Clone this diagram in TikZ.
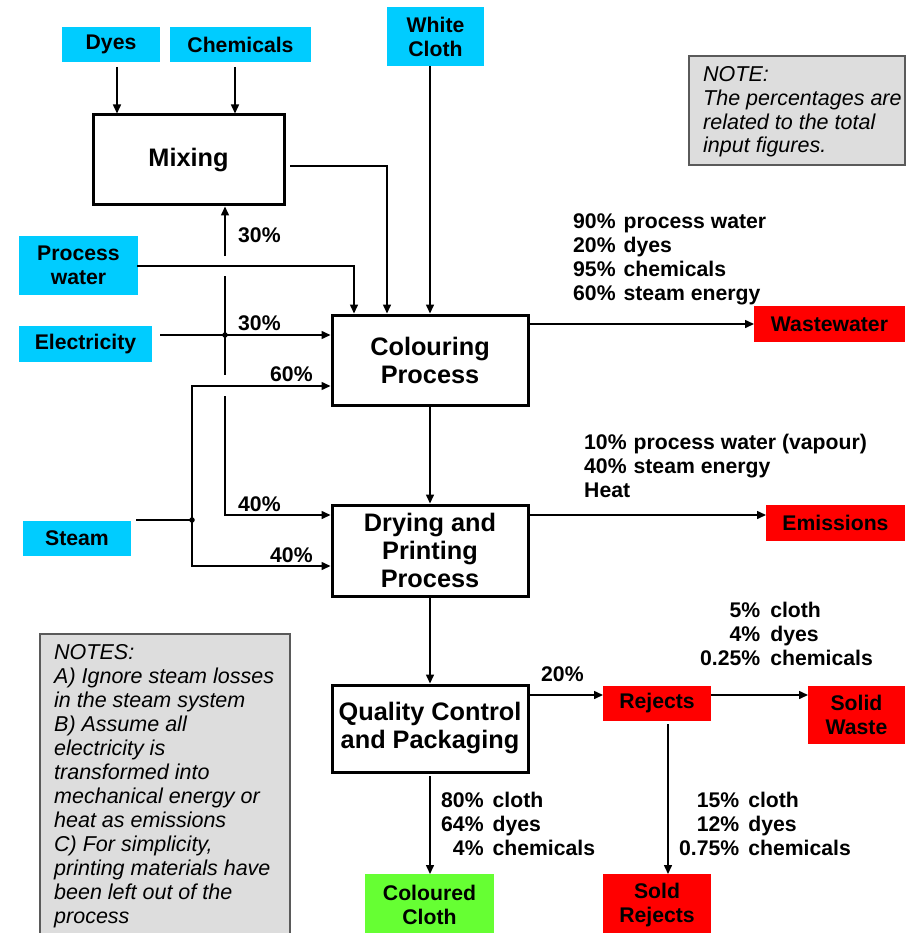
\documentclass[tikz,border=0pt]{standalone}
\usepackage{fontspec}
\setmainfont{Liberation Sans}
\usetikzlibrary{arrows.meta,calc}
\definecolor{incyan}{RGB}{0,204,255}
\definecolor{outred}{RGB}{255,0,0}
\definecolor{okgreen}{RGB}{102,255,51}
\definecolor{notegray}{RGB}{221,221,221}
\definecolor{noteedge}{RGB}{90,90,90}
\begin{document}
\begin{tikzpicture}[x=1pt,y=-1pt,
 base/.style={inner sep=0pt, outer sep=0pt, align=center},
 small/.style={font=\fontsize{21.2}{24}\selectfont\bfseries},
 inbox/.style={base, small, fill=incyan},
 outbox/.style={base, small, fill=outred},
 okbox/.style={base, small, fill=okgreen},
 proc/.style={base, draw, line width=3pt, fill=white, font=\fontsize{25.3}{28}\selectfont\bfseries},
 notebox/.style={base, draw=noteedge, line width=1.5pt, fill=notegray},
 notetext/.style={inner sep=0pt, align=left, font=\fontsize{21.5}{23.8}\selectfont\itshape},
 lbl/.style={inner sep=0pt, small},
 flow/.style={line width=1.5pt, -{Triangle[length=9pt,width=8pt]}},
 flowp/.style={flow, shorten >=1.5pt},
 plain/.style={line width=1.5pt},
 dot/.style={circle, fill=black, inner sep=0pt, minimum size=5.5pt},
]
\useasboundingbox (0,0) rectangle (908,933);

% ---- input boxes
\node[inbox, minimum width=98pt, minimum height=35pt] (dyes) at (111,44.5) {Dyes};
\node[inbox, minimum width=141pt, minimum height=35pt] (chem) at (240.5,44.5) {Chemicals};
\node[inbox, minimum width=97pt, minimum height=59pt] (white) at (435.5,36.5) {White\\Cloth};
\node[inbox, minimum width=119pt, minimum height=59pt] (pw) at (78.5,265.5) {Process\\water};
\node[inbox, minimum width=133pt, minimum height=36pt] (elec) at (85.5,344) {Electricity};
\node[inbox, minimum width=108pt, minimum height=35pt] (steam) at (77,538.5) {Steam};

% ---- process boxes
\node[proc, minimum width=191pt, minimum height=90pt] (mix) at (188.5,160) {Mixing};
\node[proc, minimum width=196pt, minimum height=90pt] (col) at (430,360) {Colouring\\Process};
\node[proc, minimum width=196pt, minimum height=91pt] (dry) at (430,550.5) {Drying and\\Printing\\Process};
\node[proc, minimum width=196pt, minimum height=87pt] (qc) at (430,728.5) {Quality Control\\and Packaging};

% ---- output boxes
\node[outbox, minimum width=151pt, minimum height=36pt] (ww) at (829.5,324) {Wastewater};
\node[outbox, minimum width=139pt, minimum height=36pt] (em) at (835.5,523) {Emissions};
\node[outbox, minimum width=108pt, minimum height=35pt] (rej) at (657,703.5) {Rejects};
\node[outbox, minimum width=97pt, minimum height=58pt] (sw) at (856.5,715) {Solid\\Waste};
\node[outbox, minimum width=108pt, minimum height=62pt] (sr) at (657,905) {Sold\\Rejects};
\node[okbox, minimum width=129pt, minimum height=62pt] (cc) at (429.5,905) {Coloured\\Cloth};

% ---- note boxes
\node[notebox, minimum width=216pt, minimum height=109pt] (note) at (797,110.5) {};
\node[notetext, anchor=west] (notet) at (703,112) {NOTE:\\The percentages are\\related to the total\\input figures.};
\node[notebox, minimum width=250pt, minimum height=311pt] (notes) at (165,789.5) {};
\node[notetext, anchor=west, font=\fontsize{21.5}{24}\selectfont\itshape] (notest) at (54,786) {NOTES:\\A) Ignore steam losses\\in the steam system\\B) Assume all\\electricity is\\transformed into\\mechanical energy or\\heat as emissions\\C) For simplicity,\\printing materials have\\been left out of the\\process};

% ---- connectors into mixing
\coordinate (d1) at ($(dyes.south)+(6,5)$);
\draw[flowp] (d1) -- (d1 |- mix.north);
\coordinate (c1) at ($(chem.south)+(-5.5,5)$);
\draw[flowp] (c1) -- (c1 |- mix.north);

% ---- into colouring
\coordinate (m1) at ($(mix.east)+(6,6)$);
\coordinate (m2) at ($(col.north)+(-43,0)$);
\draw[flowp] (m1) -| (m2);
\draw[flowp] (col.north |- white.south) -- (col.north);
\coordinate (p1) at ($(col.north)+(-76,0)$);
\draw[flowp] ($(pw.east)+(-1,0.5)$) -| (p1);

% ---- electricity
\coordinate (j1) at (225,335);
\draw[flowp] ($(elec.east)+(8,-9)$) -- (j1 -| col.west);
\draw[plain] (j1) -- (225,276);
\draw[flowp] (225,256) -- (j1 |- mix.south);
\draw[plain] (j1) -- (225,375);
\coordinate (e2) at ($(dry.west)+(0,-35.5)$);
\draw[flowp] (225,396) |- (e2);
\node[dot] (dj1) at (j1) {};

% ---- steam
\coordinate (j2) at (192,520);
\draw[plain] ($(steam.east)+(5,-18.5)$) -- (j2);
\coordinate (s1) at ($(col.west)+(0,26)$);
\draw[flowp] (j2) |- (s1);
\coordinate (s2) at ($(dry.west)+(0,15.5)$);
\draw[flowp] (j2) |- (s2);
\node[dot] (dj2) at (j2) {};

% ---- main flow
\draw[flowp] (col.south) -- (dry.north);
\draw[flowp] (dry.south) -- (qc.north);
\coordinate (q1) at ($(qc.south)+(0,4)$);
\draw[flow] (q1) -- (q1 |- cc.north);

% ---- outputs
\draw[flow] (col.east |- ww.west) -- (ww.west);
\coordinate (em1) at ($(em.west)+(0,-8)$);
\draw[flow] (dry.east |- em1) -- (em1);
\coordinate (r1) at ($(rej.west)+(0,-8.5)$);
\draw[flow] (qc.east |- r1) -- (r1);
\coordinate (r2) at ($(sw.west)+(0,-20)$);
\draw[flow] (rej.east |- r2) -- (r2);
\coordinate (r3) at ($(rej.south)+(11,3)$);
\draw[flow] (r3) -- (r3 |- sr.north);

% ---- labels
\node[lbl, anchor=west] (l30a) at (238,235) {30\%};
\node[lbl, anchor=west] (l30b) at (238,323) {30\%};
\node[lbl, anchor=west] (l60) at (270,374) {60\%};
\node[lbl, anchor=west] (l40a) at (238,504) {40\%};
\node[lbl, anchor=west] (l40b) at (270,555) {40\%};
\node[lbl, anchor=west] (l20) at (541,674) {20\%};

\node[lbl, anchor=west] (wwl) at (573,260) {\begin{tabular}{@{}l@{\hspace{8pt}}l@{}}90\% & process water\\ 20\% & dyes\\ 95\% & chemicals\\ 60\% & steam energy\end{tabular}};
\node[lbl, anchor=west] (eml) at (584,469) {\begin{tabular}{@{}l@{\hspace{7pt}}l@{}}10\% & process water (vapour)\\ 40\% & steam energy\\ \multicolumn{2}{@{}l@{}}{Heat}\end{tabular}};
\node[lbl, anchor=west] (swl) at (700,637) {\begin{tabular}{@{}r@{\hspace{10pt}}l@{}}5\% & cloth\\ 4\% & dyes\\ 0.25\% & chemicals\end{tabular}};
\node[lbl, anchor=west] (srl) at (679,827) {\begin{tabular}{@{}r@{\hspace{9pt}}l@{}}15\% & cloth\\ 12\% & dyes\\ 0.75\% & chemicals\end{tabular}};
\node[lbl, anchor=west] (ccl) at (441,827) {\begin{tabular}{@{}r@{\hspace{9pt}}l@{}}80\% & cloth\\ 64\% & dyes\\ 4\% & chemicals\end{tabular}};
\end{tikzpicture}
\end{document}
